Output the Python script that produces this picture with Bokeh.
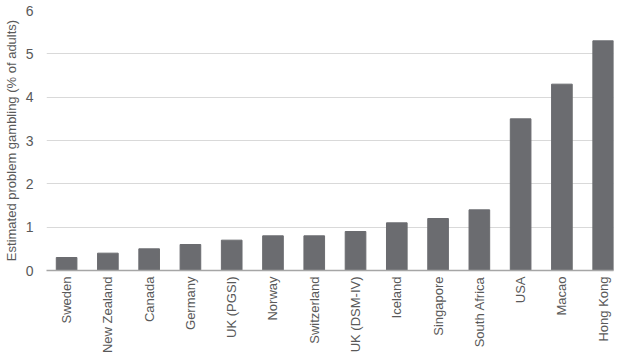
import math
from bokeh.plotting import figure
from bokeh.models import ColumnDataSource, Range1d, FixedTicker
from bokeh.embed import file_html
from bokeh.resources import INLINE

countries = ["Sweden", "New Zealand", "Canada", "Germany", "UK (PGSI)", "Norway",
             "Switzerland", "UK (DSM-IV)", "Iceland", "Singapore", "South Africa",
             "USA", "Macao", "Hong Kong"]
values = [0.3, 0.4, 0.5, 0.6, 0.7, 0.8, 0.8, 0.9, 1.1, 1.2, 1.4, 3.5, 4.3, 5.3]
y_ticks = [0, 1, 2, 3, 4, 5, 6]

idx = list(range(len(countries)))
bar_w = 0.5
src = ColumnDataSource(dict(x=idx, y=values))

p = figure(x_range=Range1d(-0.487, len(countries) - 1 + bar_w / 2), y_range=(0, 6),
           width=620, height=356, output_backend="svg", toolbar_location=None,
           min_border_top=10, min_border_right=7, min_border_left=0, min_border_bottom=0)
p.vbar(x="x", top="y", width=bar_w, source=src, color="#6b6c70")

p.outline_line_color = None
p.xgrid.grid_line_color = None
p.ygrid.grid_line_color = "#d9d9d9"
p.ygrid.grid_line_width = 1.2

p.yaxis.ticker = y_ticks
p.yaxis.axis_line_color = None
p.yaxis.major_tick_line_color = None
p.yaxis.minor_tick_line_color = None
p.yaxis.major_tick_out = 0
p.yaxis.major_tick_in = 0
p.yaxis.minor_tick_out = 0
p.yaxis.minor_tick_in = 0
p.yaxis.major_label_text_font = "Liberation Sans"
p.yaxis.major_label_text_font_size = "14px"
p.yaxis.major_label_text_color = "#595959"
p.yaxis.major_label_standoff = 13
p.yaxis.axis_label = "Estimated problem gambling (% of adults)"
p.yaxis.axis_label_text_font = "Liberation Sans"
p.yaxis.axis_label_text_font_size = "13px"
p.yaxis.axis_label_text_font_style = "normal"
p.yaxis.axis_label_text_color = "#595959"
p.yaxis.axis_label_standoff = 4

p.xaxis.ticker = FixedTicker(ticks=idx)
p.xaxis.major_label_overrides = {i: c for i, c in zip(idx, countries)}
p.xaxis.axis_line_color = "#a6a6a6"
p.xaxis.axis_line_width = 1.5
p.xaxis.major_tick_line_color = None
p.xaxis.minor_tick_line_color = None
p.xaxis.major_tick_out = 0
p.xaxis.major_tick_in = 0
p.xaxis.minor_tick_out = 0
p.xaxis.minor_tick_in = 0
p.xaxis.major_label_orientation = math.pi / 2
p.xaxis.major_label_text_font = "Liberation Sans"
p.xaxis.major_label_text_font_size = "13px"
p.xaxis.major_label_text_color = "#595959"
p.xaxis.major_label_standoff = 6

open("out.html", "w").write(file_html(p, INLINE))
